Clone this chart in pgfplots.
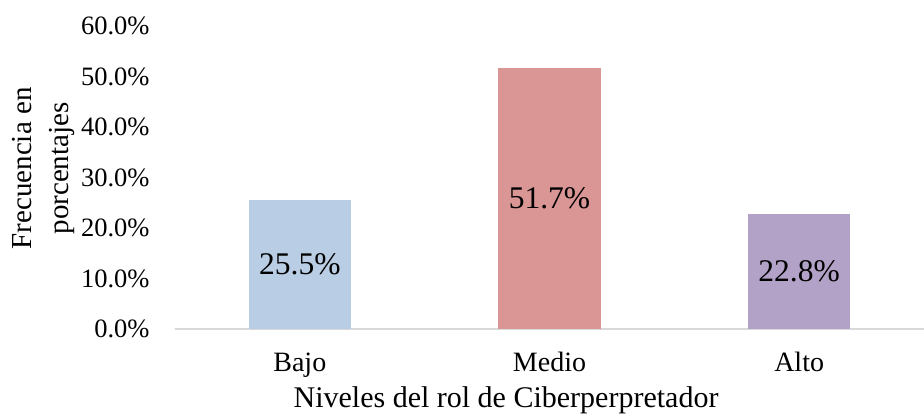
\documentclass[border=0pt]{standalone}
\usepackage{fontspec}
\setmainfont{Liberation Serif}
\usepackage{pgfplots}
\pgfplotsset{compat=1.18}
\definecolor{cBajo}{HTML}{B9CDE5}
\definecolor{cMedio}{HTML}{D99694}
\definecolor{cAlto}{HTML}{B3A2C7}
\definecolor{axgray}{HTML}{D9D9D9}
\begin{document}
\begin{tikzpicture}
\begin{axis}[name=ax,
  scale only axis, width=749pt, height=303pt,
  xmin=-0.5, xmax=2.5, ymin=0, ymax=60,
  ytick={0,10,20,30,40,50,60},
  xtick={0,1,2}, xticklabels={Bajo,Medio,Alto},
  axis x line*=bottom, axis y line*=left,
  y axis line style={draw=none},
  x axis line style={draw=axgray, line width=1.2pt, -},
  major tick length=0pt,
  tick style={draw=none},
  /pgf/number format/assume math mode=true,
  yticklabel={\pgfmathprintnumber[fixed,fixed zerofill,precision=1]{\tick}\%},
  yticklabel style={font=\fontsize{26.5}{30}\selectfont, xshift=-22pt},
  xticklabel style={font=\fontsize{28}{32}\selectfont, yshift=-20pt},
  xlabel={Niveles del rol de Ciberperpretador},
  xlabel style={font=\fontsize{30}{34}\selectfont, at={(axis description cs:0.442,0)}, anchor=center, yshift=-71pt},
  ylabel={Frecuencia en\\porcentajes},
  ylabel style={font=\fontsize{29}{37}\selectfont, align=center, at={(axis description cs:-0.176,0.53)}, anchor=center},
  clip=false,
]
\addplot[ybar, bar width=0.41, bar shift=0pt, fill=cBajo, draw=none] coordinates {(0,25.5)};
\addplot[ybar, bar width=0.41, bar shift=0pt, fill=cMedio, draw=none] coordinates {(1,51.7)};
\addplot[ybar, bar width=0.41, bar shift=0pt, fill=cAlto, draw=none] coordinates {(2,22.8)};
\addplot[draw=none, mark=none, nodes near coords, point meta=explicit symbolic,
  every node near coord/.style={anchor=center, font=\fontsize{31.5}{34}\selectfont, text=black}]
  coordinates {(0,12.75)[25.5\%] (1,25.85)[51.7\%] (2,11.4)[22.8\%]};
\end{axis}
\pgfresetboundingbox
\path ([xshift=-175pt,yshift=-87pt]ax.south west) rectangle ([yshift=26pt]ax.north east);
\end{tikzpicture}
\end{document}
